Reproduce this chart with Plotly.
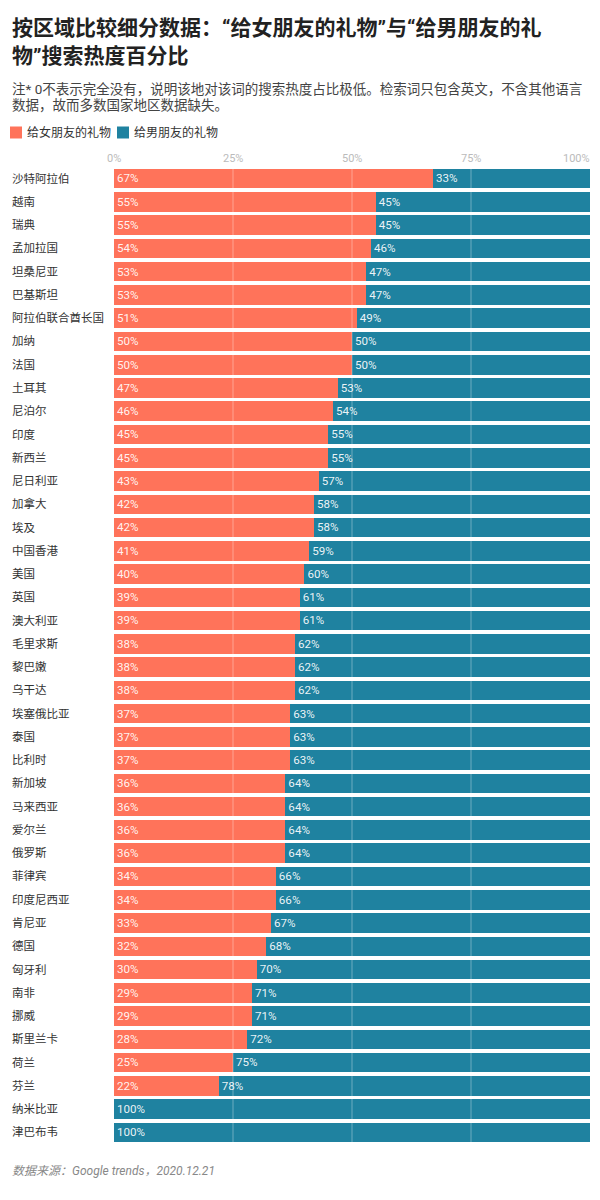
import plotly.graph_objects as go

countries = ["沙特阿拉伯", "越南", "瑞典", "孟加拉国", "坦桑尼亚", "巴基斯坦", "阿拉伯联合酋长国",
             "加纳", "法国", "土耳其", "尼泊尔", "印度", "新西兰", "尼日利亚", "加拿大", "埃及",
             "中国香港", "美国", "英国", "澳大利亚", "毛里求斯", "黎巴嫩", "乌干达", "埃塞俄比亚",
             "泰国", "比利时", "新加坡", "马来西亚", "爱尔兰", "俄罗斯", "菲律宾", "印度尼西亚",
             "肯尼亚", "德国", "匈牙利", "南非", "挪威", "斯里兰卡", "荷兰", "芬兰", "纳米比亚", "津巴布韦"]
girlfriend = [67, 55, 55, 54, 53, 53, 51, 50, 50, 47, 46, 45, 45, 43, 42, 42, 41, 40, 39, 39, 38, 38, 38,
              37, 37, 37, 36, 36, 36, 36, 34, 34, 33, 32, 30, 29, 29, 28, 25, 22, 0, 0]
boyfriend = [33, 45, 45, 46, 47, 47, 49, 50, 50, 53, 54, 55, 55, 57, 58, 58, 59, 60, 61, 61, 62, 62, 62,
             63, 63, 63, 64, 64, 64, 64, 66, 66, 67, 68, 70, 71, 71, 72, 75, 78, 100, 100]
series_names = ["给女朋友的礼物", "给男朋友的礼物"]
tick_values = [0, 25, 50, 75, 100]
tick_labels = ["0%", "25%", "50%", "75%", "100%"]

ORANGE = "#ff735a"
BLUE = "#1f82a0"
FONT = "Roboto, 'Noto Sans CJK SC', sans-serif"

W, H = 600, 1200
L, R, T, B = 114, 10, 167, 56
PW, PH = W - L - R, H - T - B

def px_x(x):
    return (x - L) / PW

def px_y(y):
    return 1 - (y - T) / PH

fig = go.Figure()
for name, vals, col in [(series_names[0], girlfriend, ORANGE), (series_names[1], boyfriend, BLUE)]:
    fig.add_trace(go.Bar(
        y=countries, x=vals, name=name, orientation="h",
        marker=dict(color=col, line=dict(width=0)),
        text=[f"{v}%" if v > 0 else "" for v in vals],
        textposition="inside", insidetextanchor="start",
        textfont=dict(color="rgba(255,255,255,0.92)", size=12, family=FONT),
        hoverinfo="x+y", showlegend=False,
    ))

annotations = []
# title
annotations.append(dict(text="<b>按区域比较细分数据：“给女朋友的礼物”与“给男朋友的礼</b>", x=px_x(10), y=px_y(28),
                        xref="paper", yref="paper", xanchor="left", yanchor="middle", showarrow=False,
                        font=dict(size=21, color="#222", family=FONT)))
annotations.append(dict(text="<b>物”搜索热度百分比</b>", x=px_x(10), y=px_y(56.5),
                        xref="paper", yref="paper", xanchor="left", yanchor="middle", showarrow=False,
                        font=dict(size=21, color="#222", family=FONT)))
annotations.append(dict(text="注* 0不表示完全没有，说明该地对该词的搜索热度占比极低。检索词只包含英文，不含其他语言",
                        x=px_x(10), y=px_y(89.5), xref="paper", yref="paper", xanchor="left", yanchor="middle",
                        showarrow=False, font=dict(size=13.5, color="#444", family=FONT)))
annotations.append(dict(text="数据，故而多数国家地区数据缺失。",
                        x=px_x(10), y=px_y(104.5), xref="paper", yref="paper", xanchor="left", yanchor="middle",
                        showarrow=False, font=dict(size=13.5, color="#444", family=FONT)))
# legend (manual)
shapes = []
lx = [10, 117]
for i, (name, col) in enumerate(zip(series_names, [ORANGE, BLUE])):
    shapes.append(dict(type="rect", xref="paper", yref="paper", x0=px_x(lx[i]), x1=px_x(lx[i] + 12),
                       y0=px_y(126.5), y1=px_y(138.5), fillcolor=col, line=dict(width=0)))
    annotations.append(dict(text=name, x=px_x(lx[i] + 15), y=px_y(132.5), xref="paper", yref="paper",
                            xanchor="left", yanchor="middle", showarrow=False,
                            font=dict(size=12, color="#333", family=FONT)))
# country labels
for c in countries:
    annotations.append(dict(text=c, x=px_x(10), y=c, xref="paper", yref="y", xanchor="left",
                            yanchor="middle", showarrow=False, font=dict(size=11.5, color="#333", family=FONT)))
# tick labels
for v, t in zip(tick_values, tick_labels):
    annotations.append(dict(text=t, x=v, y=px_y(158), xref="x", yref="paper",
                            xanchor="right" if v == 100 else "center", xshift=2 if v == 100 else 0,
                            yanchor="middle", showarrow=False,
                            font=dict(size=11, color="#bbb", family=FONT)))
# gridlines above bars
for v in tick_values[1:-1]:
    shapes.append(dict(type="line", xref="x", yref="paper", x0=v, x1=v, y0=0, y1=1,
                       line=dict(color="rgba(255,255,255,0.35)", width=1), layer="above"))
# footer
annotations.append(dict(text="<i>数据来源：Google trends，2020.12.21</i>", x=px_x(10), y=px_y(1171),
                        xref="paper", yref="paper", xanchor="left", yanchor="middle", showarrow=False,
                        font=dict(size=12, color="#888", family=FONT)))

fig.update_layout(
    width=W, height=H, margin=dict(l=L, r=R, t=T, b=B),
    paper_bgcolor="white", plot_bgcolor="white",
    barmode="stack", bargap=0.16,
    font=dict(family=FONT),
    xaxis=dict(range=[0, 100], showgrid=False, zeroline=False, showticklabels=False, fixedrange=True),
    yaxis=dict(autorange="reversed", showticklabels=False, showgrid=False, zeroline=False, fixedrange=True),
    annotations=annotations, shapes=shapes, showlegend=False,
    uniformtext=dict(mode=False),
)
fig.write_html("out.html", post_script="document.body.style.margin='0';",
               config={"displayModeBar": False})
